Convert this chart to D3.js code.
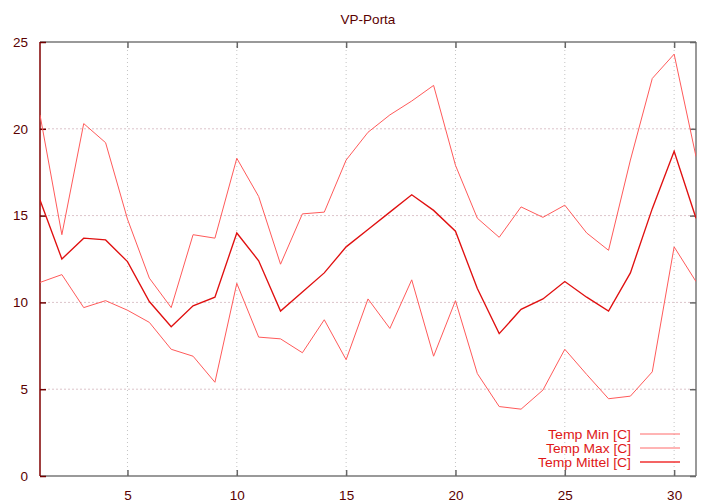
<!DOCTYPE html>
<html><head><meta charset="utf-8">
<script src="https://cdn.jsdelivr.net/npm/d3@7"></script>
<style>body{margin:0;background:#fff}svg{display:block}text{font-family:"Liberation Sans",Arial,sans-serif}</style>
</head><body>
<svg id="c" width="720" height="504"></svg>
<script>
const title = "VP-Porta";
const days = d3.range(1, 32);
const tempMin = [11.15,11.6,9.7,10.1,9.55,8.85,7.3,6.9,5.4,11.1,8.0,7.9,7.1,9.0,6.7,10.2,8.5,11.3,6.9,10.1,5.9,4.0,3.85,4.95,7.3,5.85,4.45,4.6,6.0,13.2,11.2];
const tempMax = [20.8,13.9,20.3,19.2,14.8,11.4,9.7,13.9,13.7,18.3,16.1,12.2,15.1,15.2,18.2,19.8,20.8,21.6,22.5,17.9,14.85,13.75,15.5,14.9,15.6,14.0,13.0,18.2,22.9,24.3,18.4];
const tempMittel = [15.9,12.5,13.7,13.6,12.35,10.05,8.6,9.8,10.3,14.0,12.4,9.5,10.6,11.7,13.2,14.2,15.2,16.2,15.3,14.1,10.8,8.2,9.6,10.2,11.2,10.3,9.5,11.7,15.4,18.7,14.85];
const seriesNames = ["Temp Min [C]","Temp Max [C]","Temp Mittel [C]"];
const xTicks = [5,10,15,20,25,30];
const yTicks = [0,5,10,15,20,25];

const svg = d3.select("#c");
const L=40, R=696, T=42, B=476;
const x = d3.scaleLinear().domain([1,31]).range([L,R]);
const y = d3.scaleLinear().domain([0,25]).range([B,T]);
const labelColor = "#5a0000";

// grid
svg.append("g").selectAll("line").data(xTicks).join("line")
  .attr("x1",d=>x(d)).attr("x2",d=>x(d)).attr("y1",T).attr("y2",B)
  .attr("stroke","#c4c4c4").attr("stroke-width",1).attr("stroke-dasharray","1,3");
svg.append("g").selectAll("line").data(yTicks.filter(d=>d>0&&d<25)).join("line")
  .attr("x1",L).attr("x2",R).attr("y1",d=>y(d)).attr("y2",d=>y(d))
  .attr("stroke","#dcc4ca").attr("stroke-width",1).attr("stroke-dasharray","2,2");

// frame
svg.append("line").attr("x1",L).attr("x2",R).attr("y1",T).attr("y2",T).attr("stroke","#777").attr("stroke-width",1.5);
svg.append("line").attr("x1",R).attr("x2",R).attr("y1",T).attr("y2",B).attr("stroke","#777").attr("stroke-width",1.5);
svg.append("line").attr("x1",L).attr("x2",R).attr("y1",B).attr("y2",B).attr("stroke","#777").attr("stroke-width",1.5);
svg.append("line").attr("x1",L).attr("x2",L).attr("y1",T).attr("y2",B).attr("stroke","#800000").attr("stroke-width",1.5);

// axes via d3 (inward ticks)
const xAxisB = d3.axisBottom(x).tickValues(xTicks).tickSize(-6).tickPadding(14).tickFormat(d3.format("d"));
const gxb = svg.append("g").attr("transform",`translate(0,${B})`).call(xAxisB);
const xAxisT = d3.axisTop(x).tickValues(xTicks).tickSize(-6).tickFormat("");
const gxt = svg.append("g").attr("transform",`translate(0,${T})`).call(xAxisT);
const yAxisL = d3.axisLeft(y).tickValues(yTicks).tickSize(-6).tickPadding(12).tickFormat(d3.format("d"));
const gyl = svg.append("g").attr("transform",`translate(${L},0)`).call(yAxisL);
const yAxisR = d3.axisRight(y).tickValues(yTicks).tickSize(-6).tickFormat("");
const gyr = svg.append("g").attr("transform",`translate(${R},0)`).call(yAxisR);
[gxb,gxt,gyl,gyr].forEach(g=>{
  g.select(".domain").remove();
  g.selectAll(".tick line").attr("stroke","#666").attr("stroke-width",1.5);
  g.selectAll("text").attr("fill",labelColor).style("font-size","13.5px").style("font-family","'Liberation Sans',Arial,sans-serif");
});
gyl.selectAll(".tick line").attr("stroke","#700000");

// lines
const line = d3.line().x((d,i)=>x(days[i])).y(d=>y(d));
const styles = [
  {data:tempMin, color:"#ff5a5a", w:1},
  {data:tempMax, color:"#ff5a5a", w:1},
  {data:tempMittel, color:"#e01010", w:1.35}
];
svg.append("clipPath").attr("id","clp").append("rect").attr("x",L).attr("y",T).attr("width",R-L).attr("height",B-T);
styles.forEach(s=>{
  svg.append("path").datum(s.data).attr("d",line).attr("fill","none")
    .attr("stroke",s.color).attr("stroke-width",s.w).attr("stroke-linejoin","miter")
    .attr("clip-path","url(#clp)");
});

// legend
const legendY = [434,448,462];
const legendW = [83,85,93];
const leg = svg.append("g");
seriesNames.forEach((n,i)=>{
  leg.append("text").attr("x",631).attr("y",legendY[i]+4.5).attr("text-anchor","end")
    .attr("fill","#e01818").style("font-size","12.2px")
    .attr("textLength",legendW[i]).attr("lengthAdjust","spacingAndGlyphs").text(n);
  leg.append("line").attr("x1",640).attr("x2",680).attr("y1",legendY[i]).attr("y2",legendY[i])
    .attr("stroke",i<2?"#ff6a6a":"#f03030").attr("stroke-width",i<2?1:1.5);
});

// title
svg.append("text").attr("x",368).attr("y",24).attr("text-anchor","middle")
  .attr("fill",labelColor).style("font-size","13.5px").text(title);
</script>
</body></html>
